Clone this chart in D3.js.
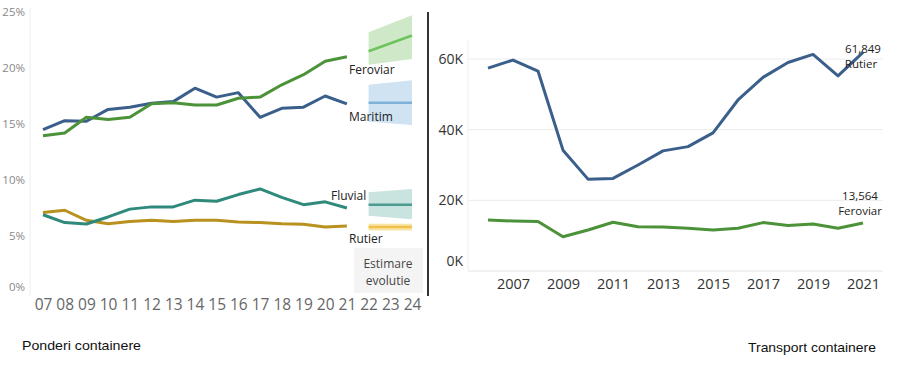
<!DOCTYPE html>
<html><head><meta charset="utf-8">
<script src="https://cdn.jsdelivr.net/npm/d3@7"></script>
<style>body{margin:0;background:#fff}svg{display:block}</style>
</head><body>
<svg id="c" width="900" height="367"></svg>
<script>
// ---- Left chart: shares (%) ----
const yearsL = [7,8,9,10,11,12,13,14,15,16,17,18,19,20,21];
const yearLabelsL = ["07","08","09","10","11","12","13","14","15","16","17","18","19","20","21","22","23","24"];
const maritim  = [14.5,15.3,15.25,16.3,16.5,16.85,17.0,18.2,17.4,17.8,15.6,16.4,16.5,17.5,16.8];
const feroviar = [13.95,14.2,15.6,15.4,15.6,16.8,16.9,16.7,16.7,17.3,17.4,18.5,19.4,20.6,21.0];
const fluvial  = [6.9,6.2,6.07,6.7,7.4,7.6,7.6,8.2,8.1,8.7,9.2,8.45,7.8,8.05,7.5];
const rutierP  = [7.1,7.3,6.4,6.1,6.3,6.4,6.3,6.4,6.4,6.25,6.2,6.1,6.05,5.8,5.9];
const yearsF = [22,24];
const ferF = [21.5,22.9], ferLo = [20.3,20.8], ferHi = [23.2,24.7];
const marF = [16.9,16.9], marLo = [15.2,14.9], marHi = [18.5,18.9];
const fluF = [7.8,7.8],   fluLo = [6.8,6.5],   fluHi = [8.9,9.2];
const rutF = [5.8,5.8],   rutLo = [5.5,5.5],   rutHi = [6.1,6.1];
const pctTicks = [0,5,10,15,20,25];

// ---- Right chart: container transport (TEU) ----
const yearsR = [2006,2007,2008,2009,2010,2011,2012,2013,2014,2015,2016,2017,2018,2019,2020,2021];
const rutierT = [57400,59700,56600,34200,26000,26200,30000,34000,35200,39100,48400,54800,59000,61300,55200,61849];
const ferT    = [14400,14150,14000,9700,11600,13800,12500,12450,12100,11600,12100,13700,12900,13300,12100,13564];
const yearTicksR = [2007,2009,2011,2013,2015,2017,2019,2021];
const kTicks = [0,20000,40000,60000];

const svg = d3.select("#c");
const F = "'Open Sans', 'DejaVu Sans', sans-serif";

// Left scales
const xL = d3.scaleLinear().domain([7,24]).range([43,412]);
const yL = d3.scaleLinear().domain([0,25]).range([292,12]);

// faint left axis line
svg.append("line").attr("x1",30).attr("x2",30).attr("y1",8).attr("y2",296)
  .attr("stroke","#eee").attr("stroke-width",1);

// y ticks
const gyL = svg.append("g").attr("transform","translate(25,0)")
  .call(d3.axisLeft(yL).tickValues(pctTicks).tickFormat(d=>d+"%").tickSize(0).tickPadding(0));
gyL.select(".domain").remove();
gyL.selectAll("text").attr("font-family",F).attr("font-size",11.5).attr("fill","#888")
  .attr("y", d => d===0 ? -5 : 0);

// x ticks
const gxL = svg.append("g").attr("transform","translate(0,296)")
  .call(d3.axisBottom(xL).tickValues(d3.range(7,25)).tickFormat((d,i)=>yearLabelsL[i]).tickSize(0).tickPadding(3));
gxL.select(".domain").remove();
gxL.selectAll("text").attr("font-family",F).attr("font-size",15.5).attr("fill","#666");

// Estimare box
svg.append("rect").attr("x",354).attr("y",248).attr("width",69).attr("height",45).attr("fill","#f4f4f4");
svg.append("text").attr("x",388).attr("y",268).attr("text-anchor","middle").attr("font-family",F)
  .attr("font-size",12).attr("fill","#444").text("Estimare");
svg.append("text").attr("x",388).attr("y",285).attr("text-anchor","middle").attr("font-family",F)
  .attr("font-size",12).attr("fill","#444").text("evolutie");

const lineL = d3.line().x(d=>xL(d[0])).y(d=>yL(d[1]));
const areaL = d3.area().x(d=>xL(d[0])).y0(d=>yL(d[1])).y1(d=>yL(d[2]));

const fc = [
  {f:ferF, lo:ferLo, hi:ferHi, band:"#cfe9c8", line:"#6dc35c"},
  {f:marF, lo:marLo, hi:marHi, band:"#cfe3f3", line:"#80b2d9"},
  {f:fluF, lo:fluLo, hi:fluHi, band:"#c9e3df", line:"#4c9c91"},
  {f:rutF, lo:rutLo, hi:rutHi, band:"#f9e4a8", line:"#f0c24c"}
];
fc.forEach(s=>{
  svg.append("path").datum(yearsF.map((y,i)=>[y,s.lo[i],s.hi[i]])).attr("d",areaL).attr("fill",s.band);
  svg.append("path").datum(yearsF.map((y,i)=>[y,s.f[i]])).attr("d",lineL)
    .attr("fill","none").attr("stroke",s.line).attr("stroke-width",2.5);
});

const seriesL = [
  {v:rutierP, c:"#b8911f"},
  {v:fluvial, c:"#2f8a7b"},
  {v:maritim, c:"#3a5f8b"},
  {v:feroviar, c:"#4c9239"}
];
seriesL.forEach(s=>{
  svg.append("path").datum(yearsL.map((y,i)=>[y,s.v[i]])).attr("d",lineL)
    .attr("fill","none").attr("stroke",s.c).attr("stroke-width",3).attr("stroke-linejoin","round");
});

const labL = [["Feroviar",349,74],["Maritim",349,121],["Fluvial",331,200],["Rutier",349,243]];
labL.forEach(l=>svg.append("text").attr("x",l[1]).attr("y",l[2]).attr("font-family",F)
  .attr("font-size",12).attr("fill","#222").text(l[0]));

// divider
svg.append("line").attr("x1",428).attr("x2",428).attr("y1",12).attr("y2",296)
  .attr("stroke","#333").attr("stroke-width",2);

// ---- Right chart ----
const xR = d3.scaleLinear().domain([2006,2021]).range([488,863]);
const yR = d3.scaleLinear().domain([0,60000]).range([271,59]);

// gridlines
kTicks.forEach(k=>{
  svg.append("line").attr("x1",468).attr("x2",883).attr("y1",yR(k)).attr("y2",yR(k))
    .attr("stroke", k===0 ? "#e4e4e4" : "#ececec").attr("stroke-width",1);
});
svg.append("line").attr("x1",468).attr("x2",468).attr("y1",40).attr("y2",271)
  .attr("stroke","#eee").attr("stroke-width",1);

const gyR = svg.append("g").attr("transform","translate(463,0)")
  .call(d3.axisLeft(yR).tickValues(kTicks).tickFormat(d=>(d/1000)+"K").tickSize(0).tickPadding(0));
gyR.select(".domain").remove();
gyR.selectAll("text").attr("font-family",F).attr("font-size",14).attr("fill","#333")
  .attr("y", d => d===0 ? -10 : 0);

const gxR = svg.append("g").attr("transform","translate(0,279)")
  .call(d3.axisBottom(xR).tickValues(yearTicksR).tickFormat(d=>String(d)).tickSize(0).tickPadding(0));
gxR.select(".domain").remove();
gxR.selectAll("text").attr("font-family",F).attr("font-size",14.5).attr("fill","#333");

const lineR = d3.line().x(d=>xR(d[0])).y(d=>yR(d[1]));
[{v:ferT,c:"#4c9239"},{v:rutierT,c:"#3a5f8b"}].forEach(s=>{
  svg.append("path").datum(yearsR.map((y,i)=>[y,s.v[i]])).attr("d",lineR)
    .attr("fill","none").attr("stroke",s.c).attr("stroke-width",3).attr("stroke-linejoin","round");
});

const fmt = d3.format(",");
const labR = [
  [fmt(rutierT[rutierT.length-1]),863,53],["Rutier",861,68],
  [fmt(ferT[ferT.length-1]),860,200],["Feroviar",860,215]
];
labR.forEach(l=>svg.append("text").attr("x",l[1]).attr("y",l[2]).attr("text-anchor","middle")
  .attr("font-family",F).attr("font-size",11.5).attr("fill","#222").text(l[0]));

// bottom titles
svg.append("text").attr("x",22).attr("y",350).attr("font-family","'Liberation Sans Narrow','Liberation Sans',sans-serif")
  .attr("font-size",13).attr("fill","#111").attr("textLength",119).attr("lengthAdjust","spacingAndGlyphs").text("Ponderi containere");
svg.append("text").attr("x",748).attr("y",352).attr("font-family","'Liberation Sans Narrow','Liberation Sans',sans-serif")
  .attr("font-size",13).attr("fill","#111").attr("textLength",128).attr("lengthAdjust","spacingAndGlyphs").text("Transport containere");
</script>
</body></html>
